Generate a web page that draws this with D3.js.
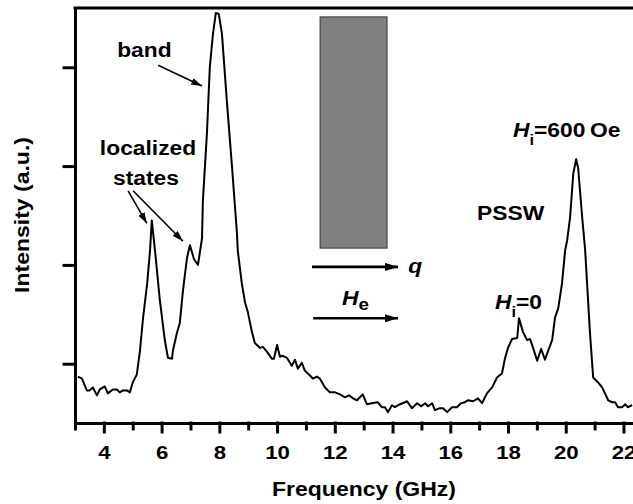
<!DOCTYPE html>
<html>
<head>
<meta charset="utf-8">
<script src="https://cdn.jsdelivr.net/npm/d3@7"></script>
<style>
  body { margin: 0; background: #fff; }
  svg text { font-family: "Liberation Sans", Arial, Helvetica, sans-serif; font-weight: bold; fill: #000; }
</style>
</head>
<body>
<svg id="chart"></svg>
<script>
// --- Data ---
const freq = [3.10, 3.24, 3.41, 3.51, 3.62, 3.76, 3.86, 4.03, 4.14, 4.31, 4.45, 4.55, 4.66, 4.80, 4.90,
  5.00, 5.14, 5.25, 5.36, 5.50, 5.60, 5.66, 5.77, 5.94, 6.11, 6.22, 6.36, 6.39, 6.53, 6.63, 6.74, 6.88,
  6.98, 7.12, 7.26, 7.40, 7.43, 7.57, 7.67, 7.78, 7.88, 7.98, 8.09, 8.26, 8.44, 8.61, 8.64, 8.78, 8.89,
  8.99, 9.13, 9.23, 9.41, 9.51, 9.68, 9.82, 9.89, 10.00, 10.10, 10.20, 10.34, 10.51, 10.62, 10.72, 10.86,
  10.96, 11.14, 11.24, 11.38, 11.48, 11.66, 11.83, 12.01, 12.18, 12.35, 12.49, 12.63, 12.77, 12.87, 12.97,
  13.11, 13.28, 13.49, 13.63, 13.74, 13.84, 13.98, 14.08, 14.26, 14.43, 14.50, 14.67, 14.85, 14.99, 15.13,
  15.23, 15.37, 15.47, 15.64, 15.75, 15.89, 16.06, 16.23, 16.37, 16.51, 16.61, 16.79, 16.96, 17.10, 17.27,
  17.45, 17.62, 17.79, 17.90, 18.00, 18.14, 18.32, 18.38, 18.52, 18.66, 18.76, 18.87, 19.01, 19.15, 19.28,
  19.39, 19.53, 19.63, 19.74, 19.87, 19.98, 20.05, 20.15, 20.26, 20.36, 20.43, 20.57, 20.67, 20.74, 20.84,
  20.95, 21.12, 21.26, 21.36, 21.47, 21.61, 21.71, 21.81, 21.95, 22.06, 22.16, 22.30];
const intensity = [0.87, 0.85, 0.73, 0.73, 0.76, 0.68, 0.74, 0.77, 0.70, 0.74, 0.74, 0.71, 0.73, 0.73, 0.71,
  0.81, 0.89, 1.13, 1.47, 1.81, 2.15, 2.45, 2.15, 1.64, 1.24, 1.06, 1.05, 1.13, 1.31, 1.41, 1.74, 2.07,
  2.20, 2.06, 2.00, 2.27, 2.65, 3.33, 4.00, 4.34, 4.55, 4.54, 4.34, 3.66, 2.99, 2.32, 2.14, 1.81, 1.62,
  1.52, 1.32, 1.21, 1.16, 1.17, 1.11, 1.05, 1.05, 1.19, 1.07, 1.08, 1.06, 0.98, 1.04, 0.95, 1.01,
  0.93, 0.88, 0.85, 0.87, 0.85, 0.76, 0.71, 0.71, 0.69, 0.66, 0.68, 0.65, 0.63, 0.66, 0.69,
  0.59, 0.60, 0.61, 0.56, 0.56, 0.51, 0.58, 0.56, 0.59, 0.61, 0.62, 0.55, 0.60, 0.57, 0.60,
  0.57, 0.60, 0.53, 0.55, 0.55, 0.51, 0.56, 0.56, 0.60, 0.61, 0.63, 0.62, 0.65, 0.60, 0.70,
  0.76, 0.86, 0.90, 1.06, 1.16, 1.25, 1.26, 1.46, 1.32, 1.24, 1.25, 1.16, 1.03, 1.15, 1.04,
  1.13, 1.24, 1.47, 1.56, 1.81, 2.15, 2.25, 2.48, 2.92, 3.07, 2.98, 2.48, 2.16, 1.81, 1.31,
  0.86, 0.81, 0.76, 0.70, 0.63, 0.61, 0.61, 0.56, 0.56, 0.59, 0.56, 0.58];

const xMajorTicks = [4, 6, 8, 10, 12, 14, 16, 18, 20, 22];
const xMinorTicks = [3, 5, 7, 9, 11, 13, 15, 17, 19, 21];
const yTicks = [1, 2, 3, 4];

// annotation arrows, in data units: [f0, v0, f1, v1]
const arrows = [
  { from: [5.88, 4.02], to: [7.40, 3.81], w: 1.6 },   // band
  { from: [4.84, 2.75], to: [5.49, 2.42], w: 1.6 },   // localized 1
  { from: [5.01, 2.75], to: [6.74, 2.24], w: 1.6 },   // localized 2
  { from: [11.21, 1.98], to: [14.19, 1.98], w: 2.6 }, // q
  { from: [11.25, 1.46], to: [14.19, 1.46], w: 2.6 }, // He
];
const sampleBox = { f0: 11.49, f1: 13.81, v0: 2.17, v1: 4.51 };

const width = 633;
const height = 504;
const stretch = 1.17; // the reference type is horizontally widened

const svg = d3.select("#chart").attr("width", width).attr("height", height);

const x = d3.scaleLinear().domain([3, 22.33]).range([75, 633]);
const y = d3.scaleLinear().domain([0.4, 4.6]).range([423, 8]);

// --- Sample block ---
svg.append("rect")
  .attr("x", x(sampleBox.f0))
  .attr("y", y(sampleBox.v1))
  .attr("width", x(sampleBox.f1) - x(sampleBox.f0))
  .attr("height", y(sampleBox.v0) - y(sampleBox.v1))
  .attr("fill", "#808080")
  .attr("stroke", "#333")
  .attr("stroke-width", 1);

// --- Spectrum ---
const line = d3.line()
  .x((d, i) => x(freq[i]))
  .y((d, i) => y(intensity[i]));

svg.append("path")
  .datum(freq)
  .attr("d", line)
  .attr("fill", "none")
  .attr("stroke", "#000")
  .attr("stroke-width", 2)
  .attr("stroke-linejoin", "round");

// --- Axes ---
const xAxis = svg.append("g")
  .attr("transform", `translate(0,${y(0.4)})`)
  .call(d3.axisBottom(x).tickValues(xMajorTicks).tickSize(9).tickSizeOuter(0));

svg.append("g")
  .attr("transform", `translate(0,${y(0.4)})`)
  .call(d3.axisBottom(x).tickValues(xMinorTicks).tickSize(6).tickFormat(""))
  .call(g => g.select(".domain").remove());

xAxis.selectAll(".tick text")
  .attr("y", 36)
  .attr("dy", 0)
  .attr("font-size", 19)
  .attr("transform", `scale(${stretch},1)`);

const yAxis = svg.append("g")
  .attr("transform", `translate(${x(3)},0)`)
  .call(d3.axisLeft(y).tickValues(yTicks).tickSize(11).tickSizeOuter(0).tickFormat(""));

svg.selectAll(".domain, .tick line")
  .attr("stroke", "#000")
  .attr("stroke-width", 3)
  .attr("stroke-linecap", "square");

// top frame line
svg.append("line")
  .attr("x1", x(3)).attr("x2", width)
  .attr("y1", y(4.6)).attr("y2", y(4.6))
  .attr("stroke", "#000")
  .attr("stroke-width", 3)
  .attr("stroke-linecap", "square");

// --- Axis titles ---
svg.append("g")
  .attr("transform", `translate(364,496) scale(${1.15},1)`)
  .append("text")
  .attr("text-anchor", "middle")
  .attr("font-size", 20)
  .text("Frequency (GHz)");

svg.append("g")
  .attr("transform", `translate(29,215) rotate(-90) scale(${1.15},1)`)
  .append("text")
  .attr("text-anchor", "middle")
  .attr("font-size", 20)
  .text("Intensity (a.u.)");

// --- Arrows ---
const defs = svg.append("defs");
function marker(id, len, half) {
  defs.append("marker")
    .attr("id", id)
    .attr("viewBox", `0 ${-half} ${len} ${2 * half}`)
    .attr("refX", len)
    .attr("refY", 0)
    .attr("markerWidth", len)
    .attr("markerHeight", 2 * half)
    .attr("markerUnits", "userSpaceOnUse")
    .attr("orient", "auto")
    .append("path")
    .attr("d", `M0,${-half}L${len},0L0,${half}Z`)
    .attr("fill", "#000");
}
marker("headThin", 11, 3.5);
marker("headThick", 13, 4);

arrows.forEach(a => {
  const x0 = x(a.from[0]), y0 = y(a.from[1]);
  const x1 = x(a.to[0]), y1 = y(a.to[1]);
  svg.append("line")
    .attr("x1", x0).attr("y1", y0)
    .attr("x2", x1).attr("y2", y1)
    .attr("stroke", "#000")
    .attr("stroke-width", a.w)
    .attr("marker-end", a.w > 2 ? "url(#headThick)" : "url(#headThin)");
});

// --- Labels ---
function label(f, v, anchor) {
  return svg.append("g")
    .attr("transform", `translate(${x(f)},${y(v)}) scale(${stretch},1)`)
    .append("text")
    .attr("text-anchor", anchor || "start")
    .attr("font-size", 19.5);
}

label(4.46, 4.10).text("band");
label(5.53, 3.11, "middle").text("localized");
label(5.46, 2.81, "middle").text("states");
label(16.93, 2.45).text("PSSW");
label(14.54, 1.92).attr("font-style", "italic").text("q");

const he = label(12.25, 1.59);
he.append("tspan").attr("font-style", "italic").text("H");
he.append("tspan").attr("font-size", 16).attr("dy", 5).text("e");

const hi0 = label(17.55, 1.55);
hi0.append("tspan").attr("font-style", "italic").text("H");
hi0.append("tspan").attr("font-size", 14).attr("dy", 8).text("i");
hi0.append("tspan").attr("dy", -8).text("=0");

const hi600 = label(18.17, 3.29);
hi600.append("tspan").attr("font-style", "italic").text("H");
hi600.append("tspan").attr("font-size", 14).attr("dy", 8).text("i");
hi600.append("tspan").attr("dy", -8).text("=600\u2009Oe");
</script>
</body>
</html>
